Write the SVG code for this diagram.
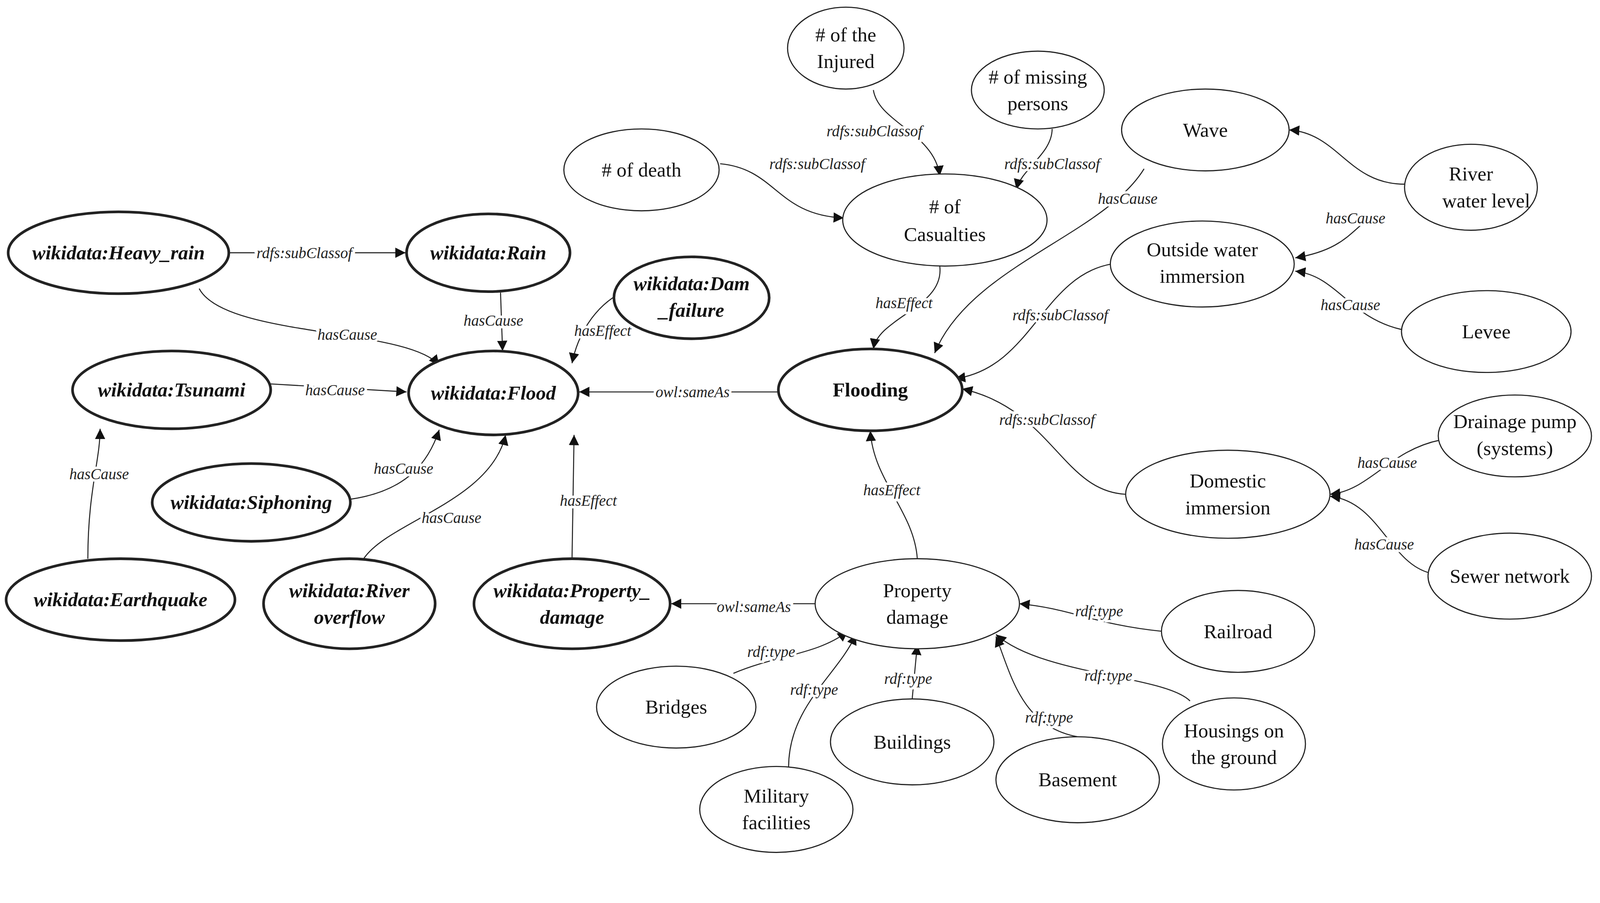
<svg xmlns="http://www.w3.org/2000/svg" width="4316" height="2312" viewBox="0 0 4316 2312">
<style>
.n ellipse{fill:#fff;stroke:#222;stroke-width:1.1}
.b ellipse{stroke-width:2.6}
.n text{font-family:"Liberation Serif",serif;font-size:19.5px;text-anchor:middle;dominant-baseline:central;fill:#111}
.b text{font-weight:bold;font-style:italic}
#edges path{fill:none;stroke:#222;stroke-width:1;marker-end:url(#ar)}
#edges text{font-family:"Liberation Serif",serif;font-size:15px;font-style:italic;text-anchor:middle;dominant-baseline:central;fill:#222;stroke:#fff;stroke-width:5;paint-order:stroke}
</style>
<defs><marker id="ar" viewBox="0 0 10 10" refX="10" refY="5" markerWidth="10" markerHeight="10" orient="auto" markerUnits="userSpaceOnUse"><path d="M0,0 L10,5 L0,10 z" fill="#111"/></marker></defs>
<rect width="4316" height="2312" fill="#fff"/>
<g transform="scale(2.615 2.62)">
<g id="edges">
<path d="M855,88 C860,120 915,130 920,172"/><text x="856" y="128">rdfs:subClassof</text>
<path d="M1030,126 C1030,150 1000,165 995,185"/><text x="1030" y="160">rdfs:subClassof</text>
<path d="M705,160 C760,165 760,210 826,213"/><text x="800" y="160">rdfs:subClassof</text>
<path d="M224,247 L397,247"/><text x="298" y="247">rdfs:subClassof</text>
<path d="M195,282 C220,330 400,320 430,357"/><text x="340" y="327">hasCause</text>
<path d="M490,286 L492,343"/><text x="483" y="313">hasCause</text>
<path d="M610,285 C580,300 565,330 560,355"/><text x="590" y="323">hasEffect</text>
<path d="M262,375 L398,383"/><text x="328" y="381">hasCause</text>
<path d="M762,383 L567,383"/><text x="678" y="383">owl:sameAs</text>
<path d="M342,488 C400,480 420,450 430,420"/><text x="395" y="458">hasCause</text>
<path d="M356,546 C380,510 480,490 495,425"/><text x="442" y="506">hasCause</text>
<path d="M560,546 L562,425"/><text x="576" y="489">hasEffect</text>
<path d="M86,546 C86,480 98,450 98,419"/><text x="97" y="463">hasCause</text>
<path d="M920,260 C925,300 860,310 855,341"/><text x="885" y="296">hasEffect</text>
<path d="M1120,165 C1080,230 950,260 915,345"/><text x="1104" y="194">hasCause</text>
<path d="M1375,180 C1320,180 1310,130 1262,127"/>
<path d="M1338,215 C1320,230 1310,245 1268,252"/><text x="1327" y="213">hasCause</text>
<path d="M1372,322 C1320,310 1310,270 1268,265"/><text x="1322" y="298">hasCause</text>
<path d="M1088,258 C1020,270 1010,360 935,370"/><text x="1038" y="308">rdfs:subClassof</text>
<path d="M1102,483 C1040,480 1030,400 942,380"/><text x="1025" y="410">rdfs:subClassof</text>
<path d="M1410,430 C1360,440 1340,480 1302,483"/><text x="1358" y="452">hasCause</text>
<path d="M1400,560 C1360,550 1350,490 1302,485"/><text x="1355" y="532">hasCause</text>
<path d="M898,546 C895,500 855,470 852,421"/><text x="873" y="479">hasEffect</text>
<path d="M798,590 L657,590"/><text x="738" y="593">owl:sameAs</text>
<path d="M1138,617 C1070,610 1050,595 998,590"/><text x="1076" y="597">rdf:type</text>
<path d="M718,658 C760,640 800,640 830,617"/><text x="755" y="637">rdf:type</text>
<path d="M772,750 C772,690 820,660 838,620"/><text x="797" y="674">rdf:type</text>
<path d="M893,683 L898,630"/><text x="889" y="663">rdf:type</text>
<path d="M1055,720 C1000,710 990,660 975,622"/><text x="1027" y="701">rdf:type</text>
<path d="M1165,685 C1140,660 1020,660 975,620"/><text x="1085" y="660">rdf:type</text>
</g>
<g id="injured" class="n"><ellipse cx="828" cy="47" rx="57" ry="40"/><text x="828" y="34">#  of the</text><text x="828" y="60">Injured</text></g>
<g id="missing" class="n"><ellipse cx="1016" cy="88" rx="65" ry="38"/><text x="1016" y="75">#  of missing</text><text x="1016" y="101">persons</text></g>
<g id="death" class="n"><ellipse cx="628" cy="166" rx="76" ry="40"/><text x="628" y="166">#  of death</text></g>
<g id="casualties" class="n"><ellipse cx="925" cy="215" rx="100" ry="45"/><text x="925" y="202">#  of</text><text x="925" y="229">Casualties</text></g>
<g id="wave" class="n"><ellipse cx="1180" cy="127" rx="82" ry="40"/><text x="1180" y="127">Wave</text></g>
<g id="riverlevel" class="n"><ellipse cx="1440" cy="183" rx="65" ry="42"/><text x="1440" y="170">River</text><text x="1455" y="196">water level</text></g>
<g id="outside" class="n"><ellipse cx="1177" cy="258" rx="90" ry="42"/><text x="1177" y="244">Outside water</text><text x="1177" y="270">immersion</text></g>
<g id="levee" class="n"><ellipse cx="1455" cy="324" rx="83" ry="40"/><text x="1455" y="324">Levee</text></g>
<g id="heavyrain" class="n b"><ellipse cx="116" cy="247" rx="108" ry="40"/><text x="116" y="247">wikidata:Heavy_rain</text></g>
<g id="rain" class="n b"><ellipse cx="478" cy="247" rx="80" ry="38"/><text x="478" y="247">wikidata:Rain</text></g>
<g id="dam" class="n b"><ellipse cx="677" cy="291" rx="76" ry="40"/><text x="677" y="277">wikidata:Dam</text><text x="677" y="303">_failure</text></g>
<g id="tsunami" class="n b"><ellipse cx="168" cy="381" rx="97" ry="38"/><text x="168" y="381">wikidata:Tsunami</text></g>
<g id="flood" class="n b"><ellipse cx="483" cy="384" rx="83" ry="41"/><text x="483" y="384">wikidata:Flood</text></g>
<g id="flooding" class="n b"><ellipse cx="852" cy="381" rx="90" ry="40"/><text x="852" y="381" style="font-style:normal">Flooding</text></g>
<g id="drainage" class="n"><ellipse cx="1483" cy="426" rx="75" ry="40"/><text x="1483" y="412">Drainage pump</text><text x="1483" y="438">(systems)</text></g>
<g id="domestic" class="n"><ellipse cx="1202" cy="483" rx="100" ry="43"/><text x="1202" y="470">Domestic</text><text x="1202" y="496">immersion</text></g>
<g id="siphoning" class="n b"><ellipse cx="246" cy="491" rx="97" ry="38"/><text x="246" y="491">wikidata:Siphoning</text></g>
<g id="earthquake" class="n b"><ellipse cx="118" cy="586" rx="112" ry="40"/><text x="118" y="586">wikidata:Earthquake</text></g>
<g id="riveroverflow" class="n b"><ellipse cx="342" cy="590" rx="84" ry="44"/><text x="342" y="577">wikidata:River</text><text x="342" y="603">overflow</text></g>
<g id="wpropdamage" class="n b"><ellipse cx="560" cy="590" rx="96" ry="44"/><text x="560" y="577">wikidata:Property_</text><text x="560" y="603">damage</text></g>
<g id="propdamage" class="n"><ellipse cx="898" cy="590" rx="100" ry="44"/><text x="898" y="577">Property</text><text x="898" y="603">damage</text></g>
<g id="railroad" class="n"><ellipse cx="1212" cy="617" rx="75" ry="40"/><text x="1212" y="617">Railroad</text></g>
<g id="sewer" class="n"><ellipse cx="1478" cy="563" rx="80" ry="42"/><text x="1478" y="563">Sewer network</text></g>
<g id="bridges" class="n"><ellipse cx="662" cy="691" rx="78" ry="40"/><text x="662" y="691">Bridges</text></g>
<g id="buildings" class="n"><ellipse cx="893" cy="725" rx="80" ry="42"/><text x="893" y="725">Buildings</text></g>
<g id="basement" class="n"><ellipse cx="1055" cy="762" rx="80" ry="42"/><text x="1055" y="762">Basement</text></g>
<g id="housings" class="n"><ellipse cx="1208" cy="727" rx="70" ry="45"/><text x="1208" y="714">Housings on</text><text x="1208" y="740">the ground</text></g>
<g id="military" class="n"><ellipse cx="760" cy="791" rx="75" ry="42"/><text x="760" y="778">Military</text><text x="760" y="804">facilities</text></g>
</g>
</svg>
